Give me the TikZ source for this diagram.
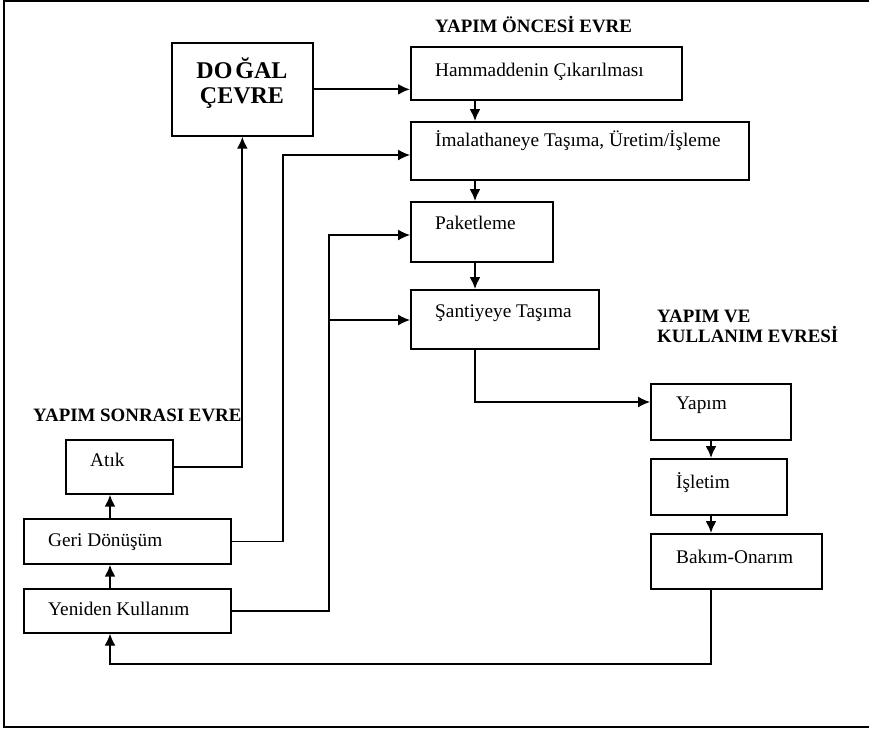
\documentclass[tikz,border=0pt]{standalone}
\usepackage{fontspec}
\setmainfont{Liberation Serif}
\usetikzlibrary{arrows.meta}
\begin{document}
\begin{tikzpicture}[x=1pt,y=-1pt,
 box/.style={draw, line width=1.7pt, inner sep=0pt, anchor=north west},
 txt/.style={anchor=west, inner sep=0pt, font=\fontsize{19.3}{21}\selectfont},
 head/.style={anchor=west, inner sep=0pt, font=\fontsize{18.9}{20}\selectfont\bfseries, align=left},
 arr/.style={line width=1.9pt, -{Latex[length=12pt,width=11pt]}},
 fb/.style={line width=1.3pt},
 fbarr/.style={line width=1.3pt, -{Latex[length=12pt,width=11pt]}}]
\useasboundingbox (0,0) rectangle (869,729);
\draw[line width=1.5pt] (4,1) rectangle (871,727);
% boxes
\node[box, minimum width=141pt, minimum height=93pt] (dogal) at (171,42) {};
\node[box, minimum width=271pt, minimum height=53pt] (ham) at (410,46) {};
\node[box, minimum width=338pt, minimum height=58pt] (imal) at (410,121) {};
\node[box, minimum width=142pt, minimum height=60pt] (paket) at (410,201) {};
\node[box, minimum width=188pt, minimum height=59pt] (sant) at (410,289) {};
\node[box, minimum width=140pt, minimum height=56pt] (yapim) at (650,383) {};
\node[box, minimum width=136pt, minimum height=56pt] (islet) at (650,458) {};
\node[box, minimum width=171pt, minimum height=55pt] (bakim) at (650,533) {};
\node[box, minimum width=107pt, minimum height=54pt] (atik) at (65,439) {};
\node[box, minimum width=207pt, minimum height=45pt] (geri) at (23,518) {};
\node[box, minimum width=207pt, minimum height=44pt] (yeni) at (23,588) {};
% texts
\node[inner sep=0pt, align=center, font=\fontsize{24}{25}\selectfont\bfseries] (dogalT) at (242,83) {DO\hspace{3pt}ĞAL\\ÇEVRE};
\node[txt] (hamT) at (435,72) {Hammaddenin Çıkarılması};
\node[txt] (imalT) at (435,141) {İmalathaneye Taşıma, Üretim/İşleme};
\node[txt] (paketT) at (435,223) {Paketleme};
\node[txt] (santT) at (435,313) {Şantiyeye Taşıma};
\node[txt] (yapimT) at (676,405) {Yapım};
\node[txt] (isletT) at (676,483) {İşletim};
\node[txt] (bakimT) at (676,557) {Bakım-Onarım};
\node[txt] (atikT) at (90,460) {Atık};
\node[txt] (geriT) at (48,542) {Geri Dönüşüm};
\node[txt] (yeniT) at (48,609) {Yeniden Kullanım};
% headings
\node[head] (h1) at (435,25) {YAPIM ÖNCESİ EVRE};
\node[head] (h2) at (657,326) {YAPIM VE\\KULLANIM EVRESİ};
\node[head] (h3) at (33,415) {YAPIM SONRASI EVRE};
% connectors
\draw[arr] (dogal.east) -- (dogal.east -| ham.west);
\draw[arr] ([xshift=65pt]ham.south west) -- ([xshift=65pt]imal.north west);
\draw[arr] ([xshift=65pt]imal.south west) -- ([xshift=65pt]paket.north west);
\draw[arr] ([xshift=65pt]paket.south west) -- ([xshift=65pt]sant.north west);
\draw[fbarr] ([xshift=65pt]sant.south west) |- ([yshift=-19pt]yapim.north west);
\draw[arr] ([xshift=61pt]yapim.south west) -- ([xshift=61pt]islet.north west);
\draw[arr] ([xshift=61pt]islet.south west) -- ([xshift=61pt]bakim.north west);
\coordinate (loopA) at (711,664);
\coordinate (loopB) at (110,664);
\draw[fbarr] ([xshift=61pt]bakim.south west) -- (loopA) -- (loopB) -- ([xshift=87pt]yeni.south west);
\draw[arr] ([xshift=87pt]yeni.north west) -- ([xshift=87pt]geri.south west);
\draw[arr] ([xshift=87pt]geri.north west) -- ([xshift=45pt]atik.south west);
\draw[arr] (atik.east) -| (dogal.south);
\coordinate (g1) at (283,155);
\draw[fbarr] (geri.east) -| (g1) -- (g1 -| imal.west);
\coordinate (y1) at (329,235);
\coordinate (y2) at (329,320);
\draw[fbarr] (yeni.east) -| (y1) -- (y1 -| paket.west);
\draw[fbarr] (y2) -- (y2 -| sant.west);
\end{tikzpicture}
\end{document}
